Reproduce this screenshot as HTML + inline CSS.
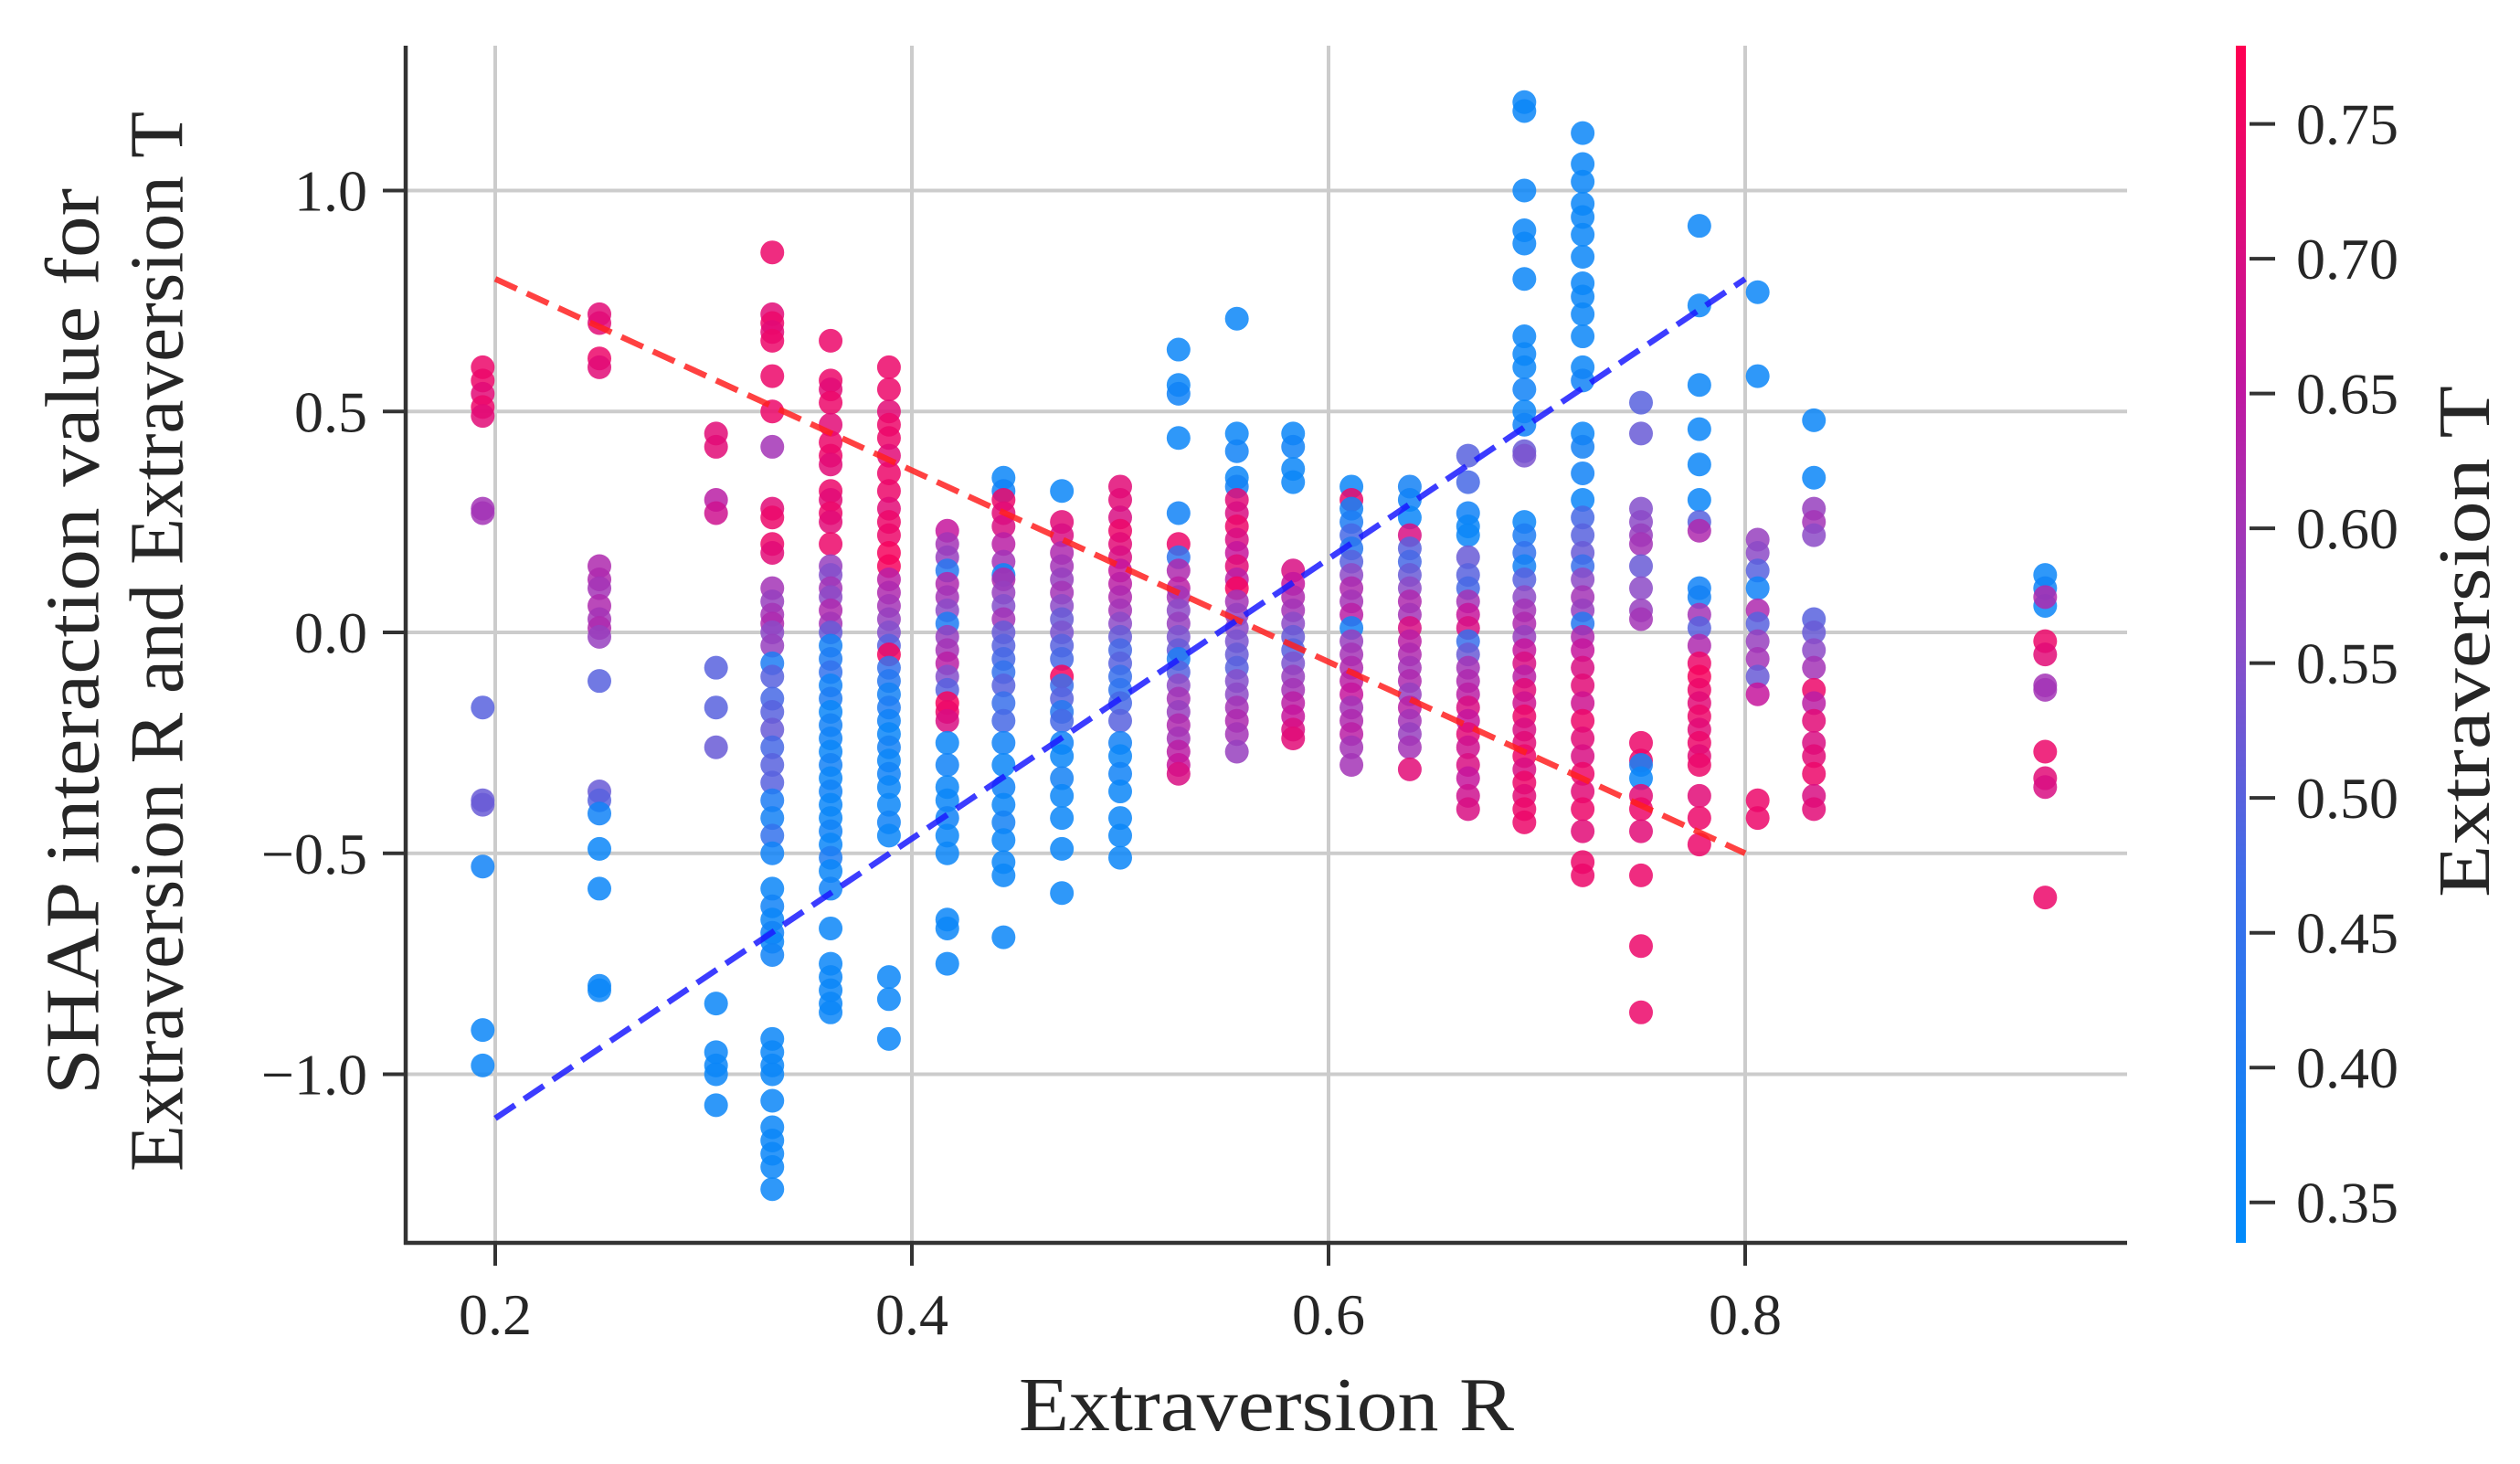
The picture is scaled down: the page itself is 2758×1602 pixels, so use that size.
<!DOCTYPE html>
<html><head><meta charset="utf-8"><style>
html,body{margin:0;padding:0;background:#fff;}
svg{display:block;font-family:"Liberation Serif",serif;}
</style></head><body>
<svg id="chart" width="2758" height="1602" viewBox="0 0 2758 1602">
<defs>
<linearGradient id="cbgrad" x1="0" y1="1" x2="0" y2="0">
<stop offset="0" stop-color="#008bfb"/><stop offset="0.3" stop-color="#3c6eea"/><stop offset="0.5" stop-color="#8a4cc8"/><stop offset="0.72" stop-color="#c2169f"/><stop offset="1" stop-color="#ff0052"/>
</linearGradient>
</defs>
<g id="grid"></g>
<g id="points"></g>
<g id="lines"></g>
<g id="axes"></g>
<g id="cbar"></g>
</svg>
<script>
const colX=[0.194,0.25,0.306,0.333,0.361,0.389,0.417,0.444,0.472,0.5,0.528,0.556,0.583,0.611,0.639,0.667,0.694,0.722,0.75,0.778,0.806,0.833,0.944];
const colY=[
[.6,.57,.54,.51,.49,.28,.27,-.17,-.38,-.39,-.53,-.9,-.98],
[.72,.7,.62,.6,.15,.12,.1,.06,.03,.01,-.01,-.11,-.36,-.38,-.41,-.49,-.58,-.8,-.81],
[.45,.42,.3,.27,-.08,-.17,-.26,-.84,-.95,-.98,-1.0,-1.07],
[.86,.72,.7,.68,.66,.58,.5,.42,.28,.26,.2,.18,.1,.07,.04,.02,0,-.03,-.07,-.1,-.15,-.18,-.22,-.26,-.3,-.34,-.38,-.42,-.46,-.5,-.58,-.62,-.65,-.68,-.7,-.73,-.92,-.95,-.98,-1.0,-1.06,-1.12,-1.15,-1.18,-1.21,-1.26],
[.66,.57,.55,.52,.47,.43,.4,.38,.32,.3,.27,.25,.2,.15,.13,.1,.08,.05,.02,0,-.03,-.06,-.09,-.12,-.15,-.18,-.21,-.24,-.27,-.3,-.33,-.36,-.39,-.42,-.45,-.48,-.51,-.54,-.58,-.67,-.75,-.78,-.81,-.84,-.86],
[.6,.55,.5,.47,.44,.4,.36,.32,.28,.25,.22,.18,.15,.12,.09,.06,.03,0,-.03,-.05,-.08,-.11,-.14,-.17,-.2,-.23,-.26,-.29,-.32,-.35,-.39,-.43,-.46,-.78,-.83,-.92],
[.23,.2,.17,.14,.11,.08,.05,.02,-.01,-.04,-.07,-.1,-.13,-.16,-.18,-.2,-.25,-.3,-.35,-.38,-.42,-.46,-.5,-.65,-.67,-.75],
[.35,.32,.3,.27,.24,.2,.16,.13,.12,.09,.06,.03,0,-.03,-.06,-.09,-.12,-.16,-.2,-.25,-.3,-.35,-.39,-.43,-.47,-.52,-.55,-.69],
[.32,.25,.22,.18,.15,.12,.09,.06,.03,0,-.03,-.06,-.1,-.12,-.15,-.18,-.2,-.25,-.28,-.33,-.37,-.42,-.49,-.59],
[.33,.3,.26,.23,.2,.17,.14,.11,.08,.05,.02,-.01,-.04,-.07,-.1,-.13,-.16,-.2,-.25,-.28,-.32,-.36,-.42,-.46,-.51],
[.64,.56,.54,.44,.27,.2,.17,.14,.1,.08,.05,.02,-.01,-.04,-.06,-.09,-.12,-.15,-.18,-.21,-.24,-.27,-.3,-.32],
[.71,.45,.41,.35,.33,.3,.27,.24,.21,.18,.15,.12,.1,.07,.04,.01,-.02,-.05,-.08,-.11,-.14,-.17,-.2,-.23,-.27],
[.45,.42,.37,.34,.14,.11,.08,.05,.02,-.01,-.04,-.07,-.1,-.13,-.16,-.19,-.22,-.24],
[.33,.3,.28,.25,.22,.19,.16,.13,.1,.07,.04,.01,-.02,-.05,-.08,-.11,-.14,-.17,-.2,-.23,-.26,-.3],
[.33,.3,.26,.22,.19,.16,.13,.1,.07,.04,.01,-.02,-.05,-.08,-.11,-.14,-.17,-.2,-.23,-.26,-.31],
[.4,.34,.27,.24,.22,.17,.13,.1,.07,.04,.01,-.02,-.05,-.08,-.11,-.14,-.17,-.2,-.23,-.26,-.3,-.33,-.37,-.4],
[1.2,1.18,1.0,.91,.88,.8,.67,.63,.6,.55,.5,.47,.41,.4,.25,.22,.18,.15,.12,.08,.05,.02,-.01,-.04,-.07,-.1,-.13,-.16,-.19,-.22,-.25,-.28,-.31,-.34,-.37,-.4,-.43],
[1.13,1.06,1.02,.97,.94,.9,.85,.79,.76,.72,.67,.6,.57,.45,.42,.36,.3,.26,.22,.18,.15,.12,.08,.05,.02,-.01,-.04,-.08,-.12,-.16,-.2,-.24,-.28,-.32,-.36,-.4,-.45,-.52,-.55],
[.52,.45,.28,.25,.22,.2,.15,.1,.05,.03,-.25,-.29,-.3,-.33,-.37,-.4,-.45,-.55,-.71,-.86],
[.92,.74,.56,.46,.38,.3,.25,.23,.1,.08,.04,.01,-.03,-.07,-.1,-.13,-.16,-.19,-.22,-.25,-.28,-.3,-.37,-.42,-.48],
[.77,.58,.21,.18,.14,.1,.05,.02,-.02,-.06,-.1,-.14,-.38,-.42],
[.48,.35,.28,.25,.22,.03,0,-.04,-.08,-.13,-.16,-.2,-.25,-.28,-.32,-.37,-.4],
[.13,.1,.06,.08,-.02,-.05,-.12,-.13,-.27,-.33,-.35,-.6]
];
const colC=[
[.74,.74,.72,.74,.72,.6,.6,.5,.52,.52,.37,.36,.36],
[.72,.72,.74,.72,.62,.62,.6,.62,.6,.62,.58,.5,.52,.5,.37,.36,.36,.36,.36],
[.72,.72,.64,.68,.5,.5,.52,.36,.36,.36,.36,.36],
[.74,.72,.74,.72,.74,.74,.74,.6,.72,.74,.74,.72,.6,.58,.6,.62,.56,.58,.4,.5,.48,.5,.52,.48,.5,.5,.4,.38,.45,.37,.36,.37,.36,.37,.36,.37,.36,.36,.36,.36,.36,.36,.36,.36,.36,.36],
[.74,.74,.72,.74,.72,.74,.74,.72,.74,.72,.74,.72,.74,.58,.55,.6,.56,.62,.6,.52,.38,.4,.45,.37,.4,.36,.38,.37,.36,.38,.36,.37,.36,.36,.37,.36,.4,.36,.37,.36,.36,.36,.36,.36,.36],
[.74,.74,.72,.74,.74,.72,.74,.74,.72,.74,.74,.76,.76,.64,.62,.6,.58,.55,.5,.76,.45,.42,.38,.4,.37,.36,.38,.36,.37,.36,.36,.37,.36,.36,.36,.36],
[.66,.6,.58,.42,.62,.6,.56,.4,.58,.6,.64,.55,.5,.76,.74,.7,.36,.37,.36,.36,.37,.36,.36,.36,.36,.36],
[.36,.37,.74,.72,.7,.64,.6,.36,.62,.58,.55,.6,.52,.5,.48,.45,.5,.46,.48,.37,.36,.37,.36,.38,.36,.36,.36,.36],
[.36,.72,.7,.62,.6,.58,.6,.56,.52,.54,.5,.48,.76,.46,.5,.42,.48,.37,.36,.38,.36,.36,.36,.36],
[.72,.72,.7,.74,.72,.7,.66,.64,.62,.6,.56,.52,.48,.5,.46,.44,.48,.5,.38,.36,.37,.36,.36,.36,.36],
[.36,.36,.37,.36,.37,.74,.44,.62,.64,.6,.56,.58,.54,.52,.4,.5,.56,.6,.58,.62,.6,.64,.66,.7],
[.36,.36,.37,.36,.38,.72,.7,.74,.7,.66,.72,.64,.76,.6,.58,.56,.54,.52,.5,.55,.56,.6,.62,.6,.58],
[.36,.37,.36,.36,.7,.66,.62,.6,.56,.52,.5,.54,.58,.6,.64,.66,.7,.72],
[.36,.74,.37,.4,.48,.42,.5,.56,.62,.6,.64,.38,.58,.6,.62,.64,.66,.6,.62,.64,.6,.6],
[.38,.37,.36,.7,.5,.48,.52,.56,.62,.6,.7,.64,.62,.6,.62,.58,.64,.6,.58,.6,.72],
[.5,.48,.37,.36,.36,.52,.5,.48,.6,.66,.7,.46,.52,.6,.62,.64,.7,.66,.72,.68,.7,.66,.68,.7],
[.36,.36,.36,.36,.36,.36,.36,.36,.36,.37,.36,.37,.52,.54,.36,.4,.45,.38,.5,.56,.6,.62,.58,.66,.7,.64,.72,.68,.74,.7,.72,.74,.7,.74,.72,.74,.74],
[.36,.36,.36,.36,.36,.36,.36,.36,.36,.36,.36,.36,.37,.36,.38,.37,.36,.48,.5,.52,.46,.56,.6,.58,.42,.62,.66,.7,.72,.68,.74,.72,.7,.74,.72,.74,.72,.74,.74],
[.5,.52,.55,.56,.58,.6,.52,.56,.58,.6,.74,.74,.38,.36,.72,.74,.72,.74,.74,.74],
[.36,.36,.36,.36,.36,.36,.5,.62,.37,.38,.6,.5,.62,.74,.76,.74,.72,.74,.72,.74,.72,.74,.72,.74,.74],
[.36,.36,.58,.56,.5,.37,.62,.5,.58,.6,.52,.66,.74,.74],
[.36,.36,.58,.6,.56,.5,.52,.56,.6,.74,.64,.72,.7,.72,.74,.7,.72],
[.36,.37,.36,.62,.74,.72,.6,.6,.74,.72,.7,.74]
];
const xTicks=[0.2,0.4,0.6,0.8];
const yTicks=[1.0,0.5,0.0,-0.5,-1.0];
const yTickLabels=["1.0","0.5","0.0","\u22120.5","\u22121.0"];
const cTicks=[0.35,0.40,0.45,0.50,0.55,0.60,0.65,0.70,0.75];
const redLine=[[0.2,0.8],[0.8,-0.5]];
const blueLine=[[0.2,-1.1],[0.8,0.8]];

const NS="http://www.w3.org/2000/svg";
const X=v=>542+(v-0.2)*2280;
const Y=v=>692-v*483.5;
const cMin=0.335,cMax=0.779;
const CB_TOP=50,CB_BOT=1360;
const CY=v=>CB_BOT-(v-cMin)/(cMax-cMin)*(CB_BOT-CB_TOP);
const stops=[[0,[0,139,251]],[0.3,[60,110,234]],[0.5,[138,76,200]],[0.72,[194,22,159]],[1,[255,0,82]]];
function cmap(v){let t=Math.max(0,Math.min(1,(v-cMin)/(cMax-cMin)));
for(let i=1;i<stops.length;i++){if(t<=stops[i][0]){const a=stops[i-1],b=stops[i];const f=(t-a[0])/(b[0]-a[0]);
return "rgb("+a[1].map((c,k)=>Math.round(c+(b[1][k]-c)*f)).join(",")+")";}}return "rgb(255,0,82)";}
function mk(tag,attrs,parent){const e=document.createElementNS(NS,tag);for(const k in attrs)e.setAttribute(k,attrs[k]);parent.appendChild(e);return e;}

const grid=document.getElementById('grid');
xTicks.forEach(v=>{const l=mk('line',{x1:X(v),x2:X(v),y1:50,y2:1360,stroke:'#cccccc','stroke-width':4},grid);

});
yTicks.forEach(v=>{const l=mk('line',{x1:444,x2:2328,y1:Y(v),y2:Y(v),stroke:'#cccccc','stroke-width':4},grid);

});

const pts=document.getElementById('points');
colX.forEach((x,i)=>{colY[i].forEach((y,j)=>{
const c=mk('circle',{cx:X(x),cy:Y(y),r:13,fill:cmap(colC[i][j]),'fill-opacity':0.85},pts);

});});

const lines=document.getElementById('lines');
const rl=mk('line',{x1:X(redLine[0][0]),y1:Y(redLine[0][1]),x2:X(redLine[1][0]),y2:Y(redLine[1][1]),stroke:'#ff2020','stroke-opacity':0.85,'stroke-width':6.5,'stroke-dasharray':'26 12'},lines);


const bl=mk('line',{x1:X(blueLine[0][0]),y1:Y(blueLine[0][1]),x2:X(blueLine[1][0]),y2:Y(blueLine[1][1]),stroke:'#1a1aff','stroke-opacity':0.85,'stroke-width':6.5,'stroke-dasharray':'26 12'},lines);



const axes=document.getElementById('axes');
const ls=mk('line',{x1:444,x2:444,y1:50,y2:1362,stroke:'#333','stroke-width':4.5},axes);


const bs=mk('line',{x1:442,x2:2328,y1:1360,y2:1360,stroke:'#333','stroke-width':4.5},axes);


xTicks.forEach(v=>{mk('line',{x1:X(v),x2:X(v),y1:1360,y2:1385,stroke:'#333','stroke-width':4},axes);
const t=mk('text',{x:X(v),y:1460,'text-anchor':'middle','font-size':64,fill:'#262626'},axes);t.textContent=v.toFixed(1);

});
yTicks.forEach((v,i)=>{mk('line',{x1:419,x2:444,y1:Y(v),y2:Y(v),stroke:'#333','stroke-width':4},axes);
const t=mk('text',{x:402,y:Y(v)+22,'text-anchor':'end','font-size':64,fill:'#262626'},axes);t.textContent=yTickLabels[i];

});
const xl=mk('text',{x:1386,y:1565,'text-anchor':'middle','font-size':84,fill:'#262626',textLength:542,lengthAdjust:'spacingAndGlyphs'},axes);xl.textContent='Extraversion R';


const yl1=mk('text',{x:0,y:0,'text-anchor':'middle','dominant-baseline':'central','font-size':84,fill:'#262626',textLength:992,lengthAdjust:'spacingAndGlyphs',transform:'translate(80,702) rotate(-90)'},axes);yl1.textContent='SHAP interaction value for';


const yl2=mk('text',{x:0,y:0,'text-anchor':'middle','dominant-baseline':'central','font-size':84,fill:'#262626',textLength:1160,lengthAdjust:'spacingAndGlyphs',transform:'translate(172,702) rotate(-90)'},axes);yl2.textContent='Extraversion R and Extraversion T';



const cb=document.getElementById('cbar');
const bar=mk('rect',{x:2447,y:CB_TOP,width:11,height:CB_BOT-CB_TOP,fill:'url(#cbgrad)'},cb);


cTicks.forEach(v=>{mk('line',{x1:2462,x2:2490,y1:CY(v),y2:CY(v),stroke:'#333','stroke-width':4},cb);
const t=mk('text',{x:2513,y:CY(v)+22,'font-size':64,fill:'#262626'},cb);t.textContent=v.toFixed(2);

});
const ct=mk('text',{x:0,y:0,'text-anchor':'middle','dominant-baseline':'central','font-size':80,fill:'#262626',textLength:560,lengthAdjust:'spacingAndGlyphs',transform:'translate(2698,702) rotate(-90)'},cb);ct.textContent='Extraversion T';


</script>
</body></html>
